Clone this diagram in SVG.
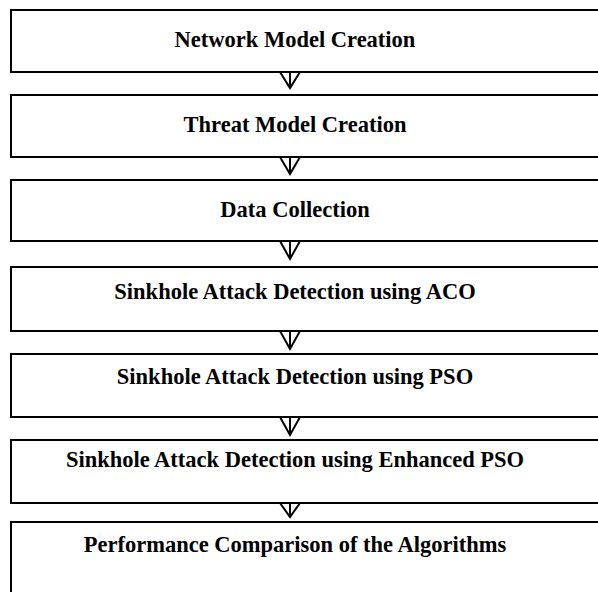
<svg xmlns="http://www.w3.org/2000/svg" width="598" height="592" viewBox="0 0 598 592">
<style>
.box{fill:#fff;stroke:#000;stroke-width:2}
.lbl{font-family:"Liberation Serif","Times New Roman",serif;font-weight:bold;font-size:22.5px;fill:#000;text-anchor:middle}
.arr{fill:none;stroke:#000;stroke-width:2}
</style>
<rect width="598" height="592" fill="#fff"/>
<g id="n1"><rect class="box" x="11" y="10" width="600" height="62"/><text class="lbl" x="295" y="47">Network Model Creation</text></g>
<g id="n2"><rect class="box" x="11" y="95" width="600" height="62"/><text class="lbl" x="295" y="132">Threat Model Creation</text></g>
<g id="n3"><rect class="box" x="11" y="180" width="600" height="61"/><text class="lbl" x="295" y="217">Data Collection</text></g>
<g id="n4"><rect class="box" x="11" y="267" width="600" height="64"/><text class="lbl" x="295" y="299">Sinkhole Attack Detection using ACO</text></g>
<g id="n5"><rect class="box" x="11" y="354" width="600" height="63"/><text class="lbl" x="295" y="384">Sinkhole Attack Detection using PSO</text></g>
<g id="n6"><rect class="box" x="11" y="440" width="600" height="63"/><text class="lbl" x="295" y="467">Sinkhole Attack Detection using Enhanced PSO</text></g>
<g id="n7"><rect class="box" x="11" y="522" width="600" height="80"/><text class="lbl" x="295" y="552">Performance Comparison of the Algorithms</text></g>
<g id="connectors">
<path class="arr" d="M290,72V88M280,72L290,88L300,72"/>
<path class="arr" d="M290,157V174M280,157L290,174L300,157"/>
<path class="arr" d="M290,241V259M280,241L290,259L300,241"/>
<path class="arr" d="M290,331V349M280,331L290,349L300,331"/>
<path class="arr" d="M290,417V435M280,417L290,435L300,417"/>
<path class="arr" d="M290,503V517M280,503L290,517L300,503"/>
</g>
</svg>
